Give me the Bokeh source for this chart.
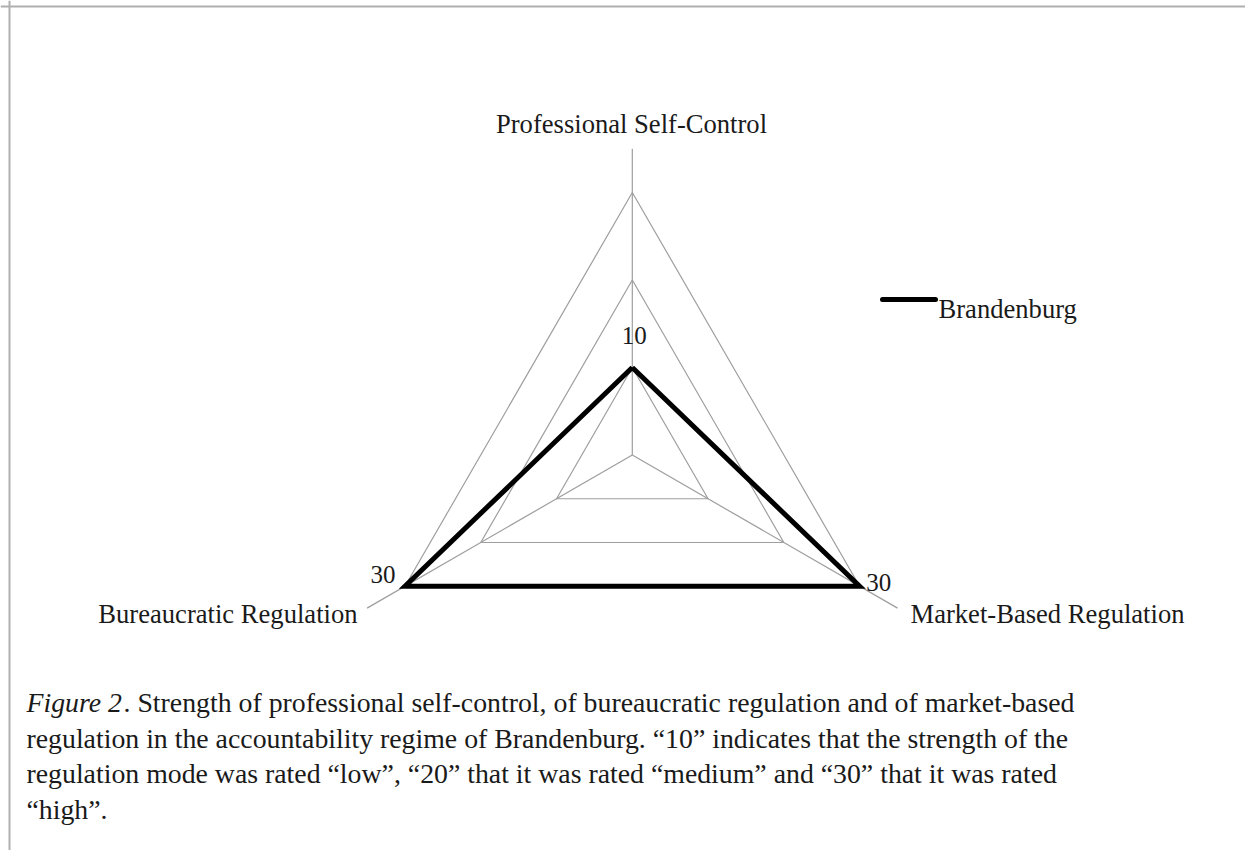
import numpy as np
from bokeh.plotting import figure
from bokeh.models import Range1d, ColumnDataSource
from bokeh.core.properties import value
from bokeh.embed import file_html
from bokeh.resources import INLINE

# ---------------- data ----------------
categories = ["Professional Self-Control", "Market-Based Regulation", "Bureaucratic Regulation"]
series_name = "Brandenburg"
brandenburg = [10, 30, 30]
grid_levels = [10, 20, 30]
spoke_extent = 35
caption_italic = "Figure 2"
caption_lines = [
    ". Strength of professional self-control, of bureaucratic regulation and of market-based",
    "regulation in the accountability regime of Brandenburg. \u201c10\u201d indicates that the strength of the",
    "regulation mode was rated \u201clow\u201d, \u201c20\u201d that it was rated \u201cmedium\u201d and \u201c30\u201d that it was rated",
    "\u201chigh\u201d.",
]

# ---------------- layout ----------------
W, H = 1245, 850
ORG = 0                          # page offset of the figure in the screenshot
CX, CY = 631.8, 454.5            # radar centre in page pixels
PX_PER_UNIT = 262.5 / 30.0
FONT = value("Liberation Serif")
GRID_COLOR = "#9e9e9e"
TXT = "#1a1a1a"


def P(x, y):
    """page pixel -> data coordinates"""
    return x - CX, CY - y


p = figure(width=W, height=H, output_backend="svg", toolbar_location=None,
           x_range=Range1d(ORG - CX, ORG + W - CX), y_range=Range1d(CY - (ORG + H), CY - ORG),
           min_border=0, tools="")
p.axis.visible = False
p.grid.visible = False
p.outline_line_color = None
p.background_fill_color = "white"
p.border_fill_color = "white"

angles = np.deg2rad([90, -30, 210])


def polar(vals):
    r = np.asarray(vals, dtype=float) * PX_PER_UNIT
    return list(r * np.cos(angles)), list(r * np.sin(angles))


# grid triangles
for lv in grid_levels:
    xs, ys = polar([lv] * 3)
    p.line(xs + xs[:1], ys + ys[:1], line_color=GRID_COLOR, line_width=1.2)

# spokes
sx, sy = polar([spoke_extent] * 3)
p.segment(x0=[0] * 3, y0=[0] * 3, x1=sx, y1=sy, line_color=GRID_COLOR, line_width=1.2)

# data series
dx, dy = polar(brandenburg)
p.line(dx + dx[:1], dy + dy[:1], line_color="black", line_width=5, line_join="miter")

# data labels
lab_src = ColumnDataSource(dict(x=dx, y=dy, t=[str(v) for v in brandenburg],
                                xo=[2, 19, -22], yo=[-32, -4, -12]))
p.text(x="x", y="y", text="t", x_offset="xo", y_offset="yo", source=lab_src,
       text_font=FONT, text_font_size="25px", text_align="center",
       text_baseline="alphabetic", text_color=TXT)

# category labels
cat_pos = [P(631, 123), P(910, 613), P(357, 613)]
cat_align = ["center", "left", "right"]
for (x, y), c, a in zip(cat_pos, categories, cat_align):
    p.text(x=[x], y=[y], text=[c], text_font=FONT, text_font_size="26.6px",
           text_align=a, text_baseline="alphabetic", text_color=TXT)

# legend
lx0, ly = P(882, 299)
lx1, _ = P(935, 299)
p.line([lx0, lx1], [ly, ly], line_color="black", line_width=5, line_cap="round")
tx, ty = P(938, 308)
p.text(x=[tx], y=[ty], text=[series_name], text_font=FONT, text_font_size="26.6px",
       text_align="left", text_baseline="alphabetic", text_color=TXT)

# caption
cap_font = "27.8px"
x0, y0 = P(26, 702)
p.text(x=[x0], y=[y0], text=[caption_italic], text_font=FONT, text_font_size=cap_font,
       text_font_style="italic", text_baseline="alphabetic", text_color=TXT)
base_y = [702, 737.5, 773, 808.5]
for i, (line, by) in enumerate(zip(caption_lines, base_y)):
    xx, yy = P(26 if i else 123, by)
    p.text(x=[xx], y=[yy], text=[line], text_font=FONT, text_font_size=cap_font,
           text_baseline="alphabetic", text_color=TXT)

# page border (top and left)
bx0, by0 = P(ORG, 6)
bx1, _ = P(ORG + W, 6)
p.line([bx0, bx1], [by0, by0], line_color="#b0b0b0", line_width=2)
cx0, cy0 = P(9, ORG)
_, cy1 = P(9, ORG + H)
p.line([cx0, cx0], [cy0, cy1], line_color="#b0b0b0", line_width=2)

open("out.html", "w").write(file_html(p, INLINE))
